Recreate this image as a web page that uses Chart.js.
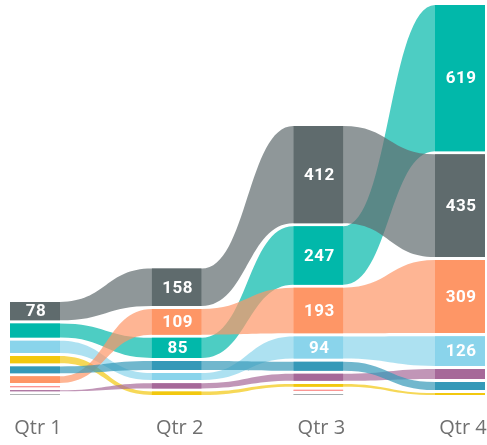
<!DOCTYPE html>
<html>
<head>
<meta charset="utf-8">
<script src="https://cdn.jsdelivr.net/npm/chart.js@4.4.1/dist/chart.umd.min.js"></script>
<style>
    html, body { margin: 0; padding: 0; background: #fff; }
    #wrap { width: 487px; height: 445px; position: relative; }
</style>
</head>
<body>
<div id="wrap"><canvas id="myChart"></canvas></div>
<script>
var quarters = ['Qtr 1', 'Qtr 2', 'Qtr 3', 'Qtr 4'];

// one array per series, null = no value in that quarter
var tealValues = [60, 85, 247, 619];
var darkValues = [3, null, 4, null];
var redValues = [5, null, 5, null];
var yellowValues = [31, 15, 12, 8];
var grayValues = [78, 158, 412, 435];
var lightBlueValues = [52, 30, 94, 126];
var orangeValues = [28, 109, 193, 309];
var purpleValues = [4, 22, 30, 42];
var blueValues = [29, 38, 38, 34];

// drawing order: later series are painted over earlier ones
var series = [tealValues, darkValues, redValues, yellowValues, grayValues,
    lightBlueValues, orangeValues, purpleValues, blueValues];
var seriesColors = ['1,184,170', '165,171,173', '250,150,148', '242,200,15', '95,107,109',
    '138,212,235', '254,150,102', '166,105,153', '53,153,184'];

var GAP = 13;      // white space between stacked ribbons (value units)
var HW = 0.1764;   // half width of a column (x units)

// rank the series in each quarter, biggest on top
var stacks = quarters.map(function (q, i) {
    var idx = [];
    series.forEach(function (vals, k) {
        if (vals[i] != null) idx.push(k);
    });
    idx.sort(function (a, b) { return series[a][i] - series[b][i]; });
    var y = 0;
    var pos = {};
    idx.forEach(function (k, n) {
        if (n > 0) y += GAP;
        pos[k] = [y, y + series[k][i]];
        y += series[k][i];
    });
    return { pos: pos, total: y };
});
var maxTotal = Math.max.apply(null, stacks.map(function (s) { return s.total; }));

var datasets = [];
var lineBase = {
    pointRadius: 0,
    borderWidth: 0,
    borderColor: 'rgba(0,0,0,0)',
    spanGaps: false
};

// ribbons
series.forEach(function (vals, k) {
    var top = [], bottom = [];
    quarters.forEach(function (q, i) {
        var p = stacks[i].pos[k];
        if (!p) {
            top.push({ x: i, y: null });
            bottom.push({ x: i, y: null });
            return;
        }
        top.push({ x: i - HW, y: p[1] }, { x: i + HW, y: p[1] });
        bottom.push({ x: i - HW, y: p[0] }, { x: i + HW, y: p[0] });
    });
    var order = series.length - k + 1;
    datasets.push(Object.assign({}, lineBase, {
        data: top, fill: false, order: order, cubicInterpolationMode: 'monotone'
    }));
    datasets.push(Object.assign({}, lineBase, {
        data: bottom, fill: '-1', order: order, cubicInterpolationMode: 'monotone',
        backgroundColor: 'rgba(' + seriesColors[k] + ',0.7)'
    }));
});

// solid columns
series.forEach(function (vals, k) {
    var top = [], bottom = [];
    quarters.forEach(function (q, i) {
        var p = stacks[i].pos[k];
        if (p) {
            top.push({ x: i - HW, y: p[1] }, { x: i + HW, y: p[1] });
            bottom.push({ x: i - HW, y: p[0] }, { x: i + HW, y: p[0] });
        }
        top.push({ x: i + 0.5, y: null });
        bottom.push({ x: i + 0.5, y: null });
    });
    datasets.push(Object.assign({}, lineBase, { data: top, fill: false, order: 0 }));
    datasets.push(Object.assign({}, lineBase, {
        data: bottom, fill: '-1', order: 0,
        backgroundColor: 'rgb(' + seriesColors[k] + ')'
    }));
});

// ribbon bends: bezier handles half way between the columns
var ribbonCurves = {
    id: 'ribbonCurves',
    beforeDatasetsDraw: function (chart) {
        chart.getSortedVisibleDatasetMetas().forEach(function (meta) {
            var line = meta.dataset;
            if (!line || line.options.cubicInterpolationMode !== 'monotone') return;
            line.updateControlPoints(chart.chartArea, 'x');
            var pts = line.points;
            for (var i = 1; i < pts.length; i++) {
                var a = pts[i - 1], b = pts[i];
                if (a.skip || b.skip) continue;
                var mx = (a.x + b.x) / 2;
                a.cp2x = mx; a.cp2y = a.y;
                b.cp1x = mx; b.cp1y = b.y;
            }
        });
    }
};

var valueLabels = {
    id: 'valueLabels',
    afterDatasetsDraw: function (chart) {
        var ctx = chart.ctx;
        var xs = chart.scales.x;
        var ys = chart.scales.y;
        ctx.save();
        ctx.font = 'bold 17px Roboto';
        ctx.letterSpacing = '0.5px';
        ctx.fillStyle = '#fff';
        ctx.textAlign = 'center';
        ctx.textBaseline = 'middle';
        series.forEach(function (vals, k) {
            quarters.forEach(function (q, i) {
                var p = stacks[i].pos[k];
                if (!p) return;
                var y1 = ys.getPixelForValue(p[1]);
                var y0 = ys.getPixelForValue(p[0]);
                if (y0 - y1 < 16) return;
                ctx.fillText(String(vals[i]), xs.getPixelForValue(i) + 1, (y0 + y1) / 2 + 1);
            });
        });
        ctx.restore();
    }
};

new Chart(document.getElementById('myChart'), {
    type: 'line',
    data: { datasets: datasets },
    plugins: [ribbonCurves, valueLabels],
    options: {
        responsive: true,
        maintainAspectRatio: false,
        animation: false,
        events: [],
        layout: { padding: { top: 5, left: 10, right: 2, bottom: 0 } },
        plugins: {
            legend: { display: false },
            tooltip: { enabled: false }
        },
        scales: {
            x: {
                type: 'linear',
                min: -HW,
                max: 3 + HW,
                afterBuildTicks: function (scale) {
                    scale.ticks = quarters.map(function (q, i) { return { value: i }; });
                },
                afterFit: function (scale) { scale.height = 50; },
                grid: {
                    display: true,
                    drawOnChartArea: false,
                    drawTicks: true,
                    tickLength: 19,
                    tickColor: 'rgba(0,0,0,0)',
                    color: 'rgba(0,0,0,0)'
                },
                border: { display: false },
                ticks: {
                    padding: 2,
                    labelOffset: 3,
                    maxRotation: 0,
                    autoSkip: false,
                    color: '#707070',
                    font: { family: 'Open Sans', size: 20 },
                    callback: function (value) { return quarters[value]; }
                }
            },
            y: {
                display: false,
                min: 0,
                max: maxTotal
            }
        }
    }
});
</script>
</body>
</html>
